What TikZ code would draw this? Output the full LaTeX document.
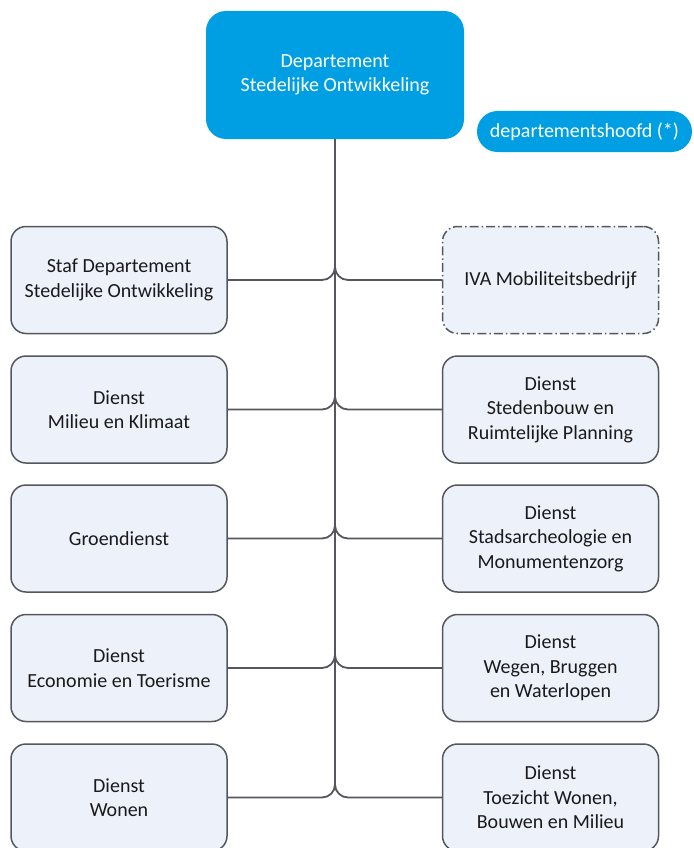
\documentclass[tikz,border=0pt]{standalone}
\usepackage{fontspec}
\setmainfont{Carlito}
\definecolor{topblue}{HTML}{009FE3}
\definecolor{boxfill}{HTML}{EDF1FA}
\definecolor{edge}{HTML}{56575C}
\definecolor{txt}{HTML}{1A1A1A}
\begin{document}
\begin{tikzpicture}[x=1pt,y=-1pt,
  lbl/.style={font=\fontsize{20}{24.5}\selectfont, align=center, inner sep=0pt},
  unit/.style={lbl, draw=edge, line width=1.5pt, fill=boxfill, rounded corners=15pt,
    minimum width=216pt, minimum height=107pt, text=txt},
  dashunit/.style={unit, dash pattern=on 9pt off 3pt on 1.5pt off 3pt},
  head/.style={lbl, fill=topblue, text=white, rounded corners=20pt,
    minimum width=258pt, minimum height=128pt},
  pill/.style={lbl, fill=topblue, text=white, rounded corners=20.5pt,
    minimum width=215pt, minimum height=41pt},
  conn/.style={draw=edge, line width=1.8pt, rounded corners=13pt}]
\useasboundingbox (0,0) rectangle (693,848);
\node[head] (top) at (335,75) {Departement\\Stedelijke Ontwikkeling};
\node[pill] (hoofd) at (584.5,131.5) {departementshoofd (*)};

\node[unit] (L1) at (119,280) {Staf Departement\\Stedelijke Ontwikkeling};
\node[unit] (L2) at (119,409.5) {Dienst\\Milieu en Klimaat};
\node[unit] (L3) at (119,538.5) {Groendienst};
\node[unit] (L4) at (119,668) {Dienst\\Economie en Toerisme};
\node[unit] (L5) at (119,797.5) {Dienst\\Wonen};

\node[dashunit] (R1) at (550.5,280) {IVA Mobiliteitsbedrijf};
\node[unit] (R2) at (550.5,409.5) {Dienst\\Stedenbouw en\\Ruimtelijke Planning};
\node[unit] (R3) at (550.5,538.5) {Dienst\\Stadsarcheologie en\\Monumentenzorg};
\node[unit] (R4) at (550.5,668) {Dienst\\Wegen, Bruggen\\en Waterlopen};
\node[unit] (R5) at (550.5,797.5) {Dienst\\Toezicht Wonen,\\Bouwen en Milieu};

\coordinate (tend) at (335,785);
\draw[conn] (top.south) -- (tend);
\foreach \i/\y in {1/280,2/409.5,3/538.5,4/668,5/797.5}{
  \coordinate (k\i) at (335,\y-22);
  \draw[conn] (L\i.east) -| (k\i);
  \draw[conn] (R\i.west) -| (k\i);
}
\end{tikzpicture}
\end{document}
